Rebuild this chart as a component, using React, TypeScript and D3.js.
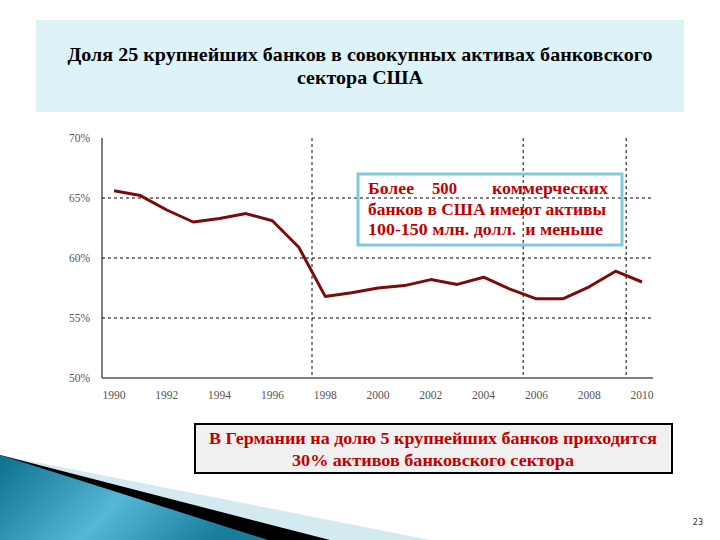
import * as d3 from "d3";
import { useEffect, useRef } from "react";

// Share of the 25 largest banks in total US banking assets, %
const years = [
  1990, 1991, 1992, 1993, 1994, 1995, 1996, 1997, 1998, 1999, 2000,
  2001, 2002, 2003, 2004, 2005, 2006, 2007, 2008, 2009, 2010,
];
const shares = [
  65.6, 65.2, 64.0, 63.0, 63.3, 63.7, 63.1, 60.9, 56.8, 57.1, 57.5,
  57.7, 58.2, 57.8, 58.4, 57.4, 56.6, 56.6, 57.6, 58.9, 58.0,
];
const yTicks = [50, 55, 60, 65, 70];
const yGrid = [55, 60, 65];
const xTicks = [1990, 1992, 1994, 1996, 1998, 2000, 2002, 2004, 2006, 2008, 2010];
const markerYears = [1997.5, 2005.5, 2009.4];

const titleLines = [
  "Доля 25 крупнейших банков в совокупных активах банковского",
  "сектора США",
];
const noteWords = ["Более", "500", "коммерческих"];
const noteLines = ["банков в США имеют активы", "100-150 млн. долл.  и меньше"];
const germanyLines = [
  "В Германии на долю 5 крупнейших банков приходится",
  "30% активов банковского сектора",
];

const SERIF = "Liberation Serif, DejaVu Serif, Times New Roman, serif";

const App: React.FC = () => {
  const svgRef = useRef<SVGSVGElement | null>(null);

  useEffect(() => {
    const svg = d3.select(svgRef.current);
    svg.selectAll("*").remove();

    const left = 102;
    const right = 653;
    const top = 138;
    const bottom = 378;

    const x = d3.scaleLinear().domain([1990, 2010]).range([114, 642]);
    const y = d3.scaleLinear().domain([50, 70]).range([bottom, top]);

    // background
    svg.append("rect").attr("width", 720).attr("height", 540).attr("fill", "#fff");

    // bottom-left decoration
    const defs = svg.append("defs");
    const grad = defs
      .append("linearGradient")
      .attr("id", "wedge")
      .attr("x1", "0")
      .attr("y1", "0")
      .attr("x2", "1")
      .attr("y2", "0.3");
    grad.append("stop").attr("offset", "0").attr("stop-color", "#0b6f8e");
    grad.append("stop").attr("offset", "0.55").attr("stop-color", "#56b6d6");
    grad.append("stop").attr("offset", "1").attr("stop-color", "#1a7d9c");

    svg.append("path").attr("d", "M0,455 L430,540 L0,540 Z").attr("fill", "#d4eaf1");
    svg.append("path").attr("d", "M0,455 L330,540 L0,540 Z").attr("fill", "#000");
    svg.append("path").attr("d", "M0,455 L268,540 L0,540 Z").attr("fill", "url(#wedge)");

    // title panel
    svg.append("rect")
      .attr("x", 36).attr("y", 20).attr("width", 648).attr("height", 92)
      .attr("fill", "#ddf3f8");
    const titleW = [585, 126];
    svg.append("g")
      .selectAll("text")
      .data(titleLines)
      .join("text")
      .attr("x", (d, i) => 360 - titleW[i] / 2)
      .attr("y", (d, i) => 61 + i * 23)
      .attr("textLength", (d, i) => titleW[i])
      .attr("lengthAdjust", "spacingAndGlyphs")
      .style("font-family", SERIF)
      .attr("font-weight", "bold")
      .attr("font-size", 19)
      .attr("fill", "#000")
      .text((d) => d);

    const g = svg.append("g");

    // horizontal grid
    g.selectAll(".hgrid")
      .data(yGrid)
      .join("line")
      .attr("x1", left).attr("x2", right)
      .attr("y1", (d) => y(d)).attr("y2", (d) => y(d))
      .attr("stroke", "#000")
      .attr("stroke-width", 1)
      .attr("stroke-dasharray", "3,3");

    // vertical markers
    g.selectAll(".vgrid")
      .data(markerYears)
      .join("line")
      .attr("x1", (d) => x(d)).attr("x2", (d) => x(d))
      .attr("y1", top).attr("y2", bottom)
      .attr("stroke", "#000")
      .attr("stroke-width", 1)
      .attr("stroke-dasharray", "3,3");

    // axes lines
    g.append("line").attr("x1", left).attr("x2", left).attr("y1", top).attr("y2", bottom)
      .attr("stroke", "#000").attr("stroke-width", 1);
    g.append("line").attr("x1", left).attr("x2", right).attr("y1", bottom).attr("y2", bottom)
      .attr("stroke", "#000").attr("stroke-width", 1);

    // tick labels
    g.selectAll(".ylab")
      .data(yTicks)
      .join("text")
      .attr("x", 90)
      .attr("y", (d) => y(d) + 4)
      .attr("text-anchor", "end")
      .style("font-family", SERIF)
      .attr("font-size", 11.5)
      .attr("fill", "#555")
      .text((d) => `${d}%`);

    g.selectAll(".xlab")
      .data(xTicks)
      .join("text")
      .attr("x", (d) => x(d))
      .attr("y", 399)
      .attr("text-anchor", "middle")
      .style("font-family", SERIF)
      .attr("font-size", 11.5)
      .attr("fill", "#555")
      .text((d) => d);

    // series line
    const line = d3
      .line<number>()
      .x((d, i) => x(years[i]))
      .y((d) => y(d));

    g.append("path")
      .datum(shares)
      .attr("fill", "none")
      .attr("stroke", "#7a0c0c")
      .attr("stroke-width", 3)
      .attr("stroke-linejoin", "round")
      .attr("d", line);

    // note box (transparent, grid shows through)
    svg.append("rect")
      .attr("x", 358).attr("y", 174).attr("width", 264).attr("height", 71)
      .attr("fill", "none")
      .attr("stroke", "#7fcadb")
      .attr("stroke-width", 3);

    const note = svg.append("g")
      .style("font-family", SERIF)
      .attr("font-weight", "bold")
      .attr("font-size", 16)
      .attr("fill", "#c00000");
    const wordX = [368, 432, 492];
    const wordW = [46, 25, 116];
    note.selectAll(".w")
      .data(noteWords)
      .join("text")
      .attr("x", (d, i) => wordX[i])
      .attr("y", 194)
      .attr("textLength", (d, i) => wordW[i])
      .attr("lengthAdjust", "spacingAndGlyphs")
      .text((d) => d);
    const lineW = [238, 235];
    note.selectAll(".l")
      .data(noteLines)
      .join("text")
      .attr("x", 368)
      .attr("y", (d, i) => 215 + i * 20)
      .attr("xml:space", "preserve")
      .attr("textLength", (d, i) => lineW[i])
      .attr("lengthAdjust", "spacingAndGlyphs")
      .text((d) => d);

    // Germany box
    svg.append("rect")
      .attr("x", 195).attr("y", 424).attr("width", 477).attr("height", 49)
      .attr("fill", "#f0f0f0")
      .attr("stroke", "#000")
      .attr("stroke-width", 2);
    const gerW = [448, 282];
    svg.append("g")
      .selectAll("text")
      .data(germanyLines)
      .join("text")
      .attr("x", (d, i) => 433 - gerW[i] / 2)
      .attr("y", (d, i) => 444 + i * 22)
      .attr("textLength", (d, i) => gerW[i])
      .attr("lengthAdjust", "spacingAndGlyphs")
      .style("font-family", SERIF)
      .attr("font-weight", "bold")
      .attr("font-size", 16.5)
      .attr("fill", "#c00000")
      .text((d) => d);

    // page number
    svg.append("text")
      .attr("x", 703).attr("y", 525)
      .attr("text-anchor", "end")
      .style("font-family", "DejaVu Sans, sans-serif")
      .attr("font-size", 8)
      .attr("fill", "#333")
      .text("23");
  }, []);

  return (
    <svg
      ref={svgRef}
      width={720}
      height={540}
      style={{ position: "absolute", left: 0, top: 0 }}
    ></svg>
  );
};

export default App;
